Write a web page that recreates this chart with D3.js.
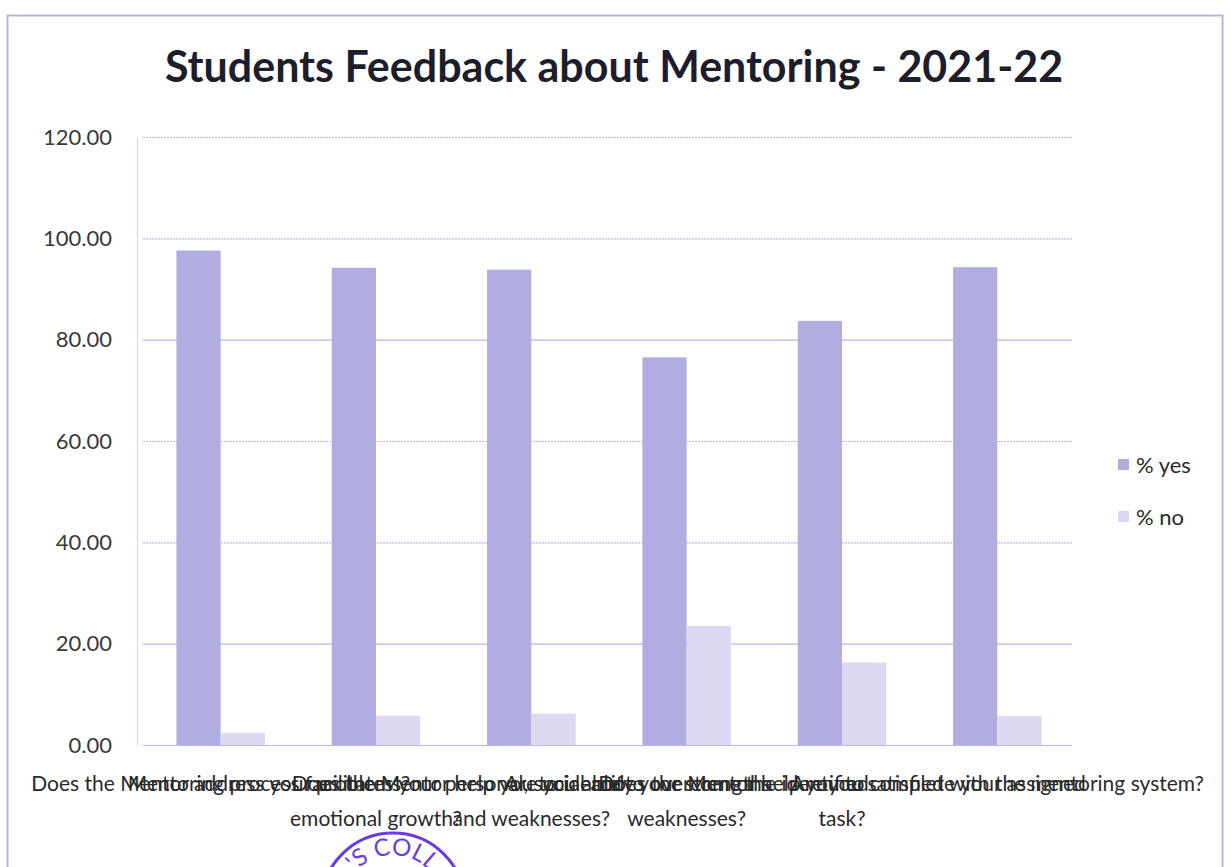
<!DOCTYPE html>
<html>
<head>
<meta charset="utf-8">
<script src="https://cdn.jsdelivr.net/npm/d3@7"></script>
<style>
  body { margin: 0; background: #fff; }
  svg { display: block; font-family: Lato, "Open Sans", sans-serif; }
</style>
</head>
<body>
<svg id="chart" width="1231" height="867"></svg>
<script>
// data
const categories = [
  ["Does the Mentor address your problems?"],
  ["Mentoring process facilitates your personal, social and", "emotional growth?"],
  ["Does the Mentor help you to identify your strengths", "and weaknesses?"],
  ["Are you able to overcome the identified", "weaknesses?"],
  ["Does the Mentor help you to complete your assigned", "task?"],
  ["Are you satisfied with the mentoring system?"]
];
const yesValues = [97.6, 94.2, 93.8, 76.5, 83.7, 94.3];
const noValues = [2.4, 5.8, 6.2, 23.5, 16.3, 5.7];
const seriesNames = ["% yes", "% no"];
const yTicks = [0, 20, 40, 60, 80, 100, 120];

const yesColor = "#b1ade0";
const noColor = "#dcd9f3";
const gridColor = "#bab5e7";

const svg = d3.select("#chart");
const plot = { left: 143, right: 1075, top: 137, bottom: 745 };

// outer chart border
svg.append("rect")
  .attr("x", 7.5).attr("y", 15.5)
  .attr("width", 1215).attr("height", 900)
  .attr("fill", "none")
  .attr("stroke", "#b9b3e3")
  .attr("stroke-width", 2);

svg.append("text")
  .attr("x", 614).attr("y", 82)
  .attr("text-anchor", "middle")
  .attr("font-size", 43)
  .attr("font-weight", "bold")
  .attr("fill", "#1d1d2b")
  .text("Students Feedback about Mentoring - 2021-22");

const x = d3.scaleBand()
  .domain(d3.range(categories.length))
  .range([plot.left, plot.right])
  .paddingInner(0.43)
  .paddingOuter(0.215);

const xInner = d3.scaleBand()
  .domain(seriesNames)
  .range([0, x.bandwidth()]);

const y = d3.scaleLinear()
  .domain([0, 120])
  .range([plot.bottom, plot.top]);

// gridlines
svg.append("g")
  .selectAll("line")
  .data(yTicks)
  .enter()
  .append("line")
  .attr("x1", plot.left).attr("x2", plot.right - 3)
  .attr("y1", d => y(d) + 0.5).attr("y2", d => y(d) + 0.5)
  .attr("stroke", gridColor)
  .attr("stroke-width", 1.2)
  .attr("stroke-dasharray", d => (d === 120 || d === 100 || d === 60 || d === 40) ? "2,1" : null);

// plot left border
svg.append("line")
  .attr("x1", plot.left - 5.5).attr("x2", plot.left - 5.5)
  .attr("y1", plot.top).attr("y2", plot.bottom)
  .attr("stroke", "#d6d3ef")
  .attr("stroke-width", 1);

// y axis labels
const yAxis = d3.axisLeft(y)
  .tickValues(yTicks)
  .tickFormat(d3.format(".2f"))
  .tickSize(0)
  .tickPadding(26);

svg.append("g")
  .attr("transform", `translate(${plot.left - 5},0)`)
  .call(yAxis)
  .call(g => g.select(".domain").remove())
  .selectAll("text")
  .attr("font-family", "Lato, sans-serif")
  .attr("font-size", 22)
  .attr("fill", "#3a3a3a");

// bars
const groups = svg.append("g")
  .selectAll("g")
  .data(categories.map((c, i) => ({ i: i, values: [yesValues[i], noValues[i]] })))
  .enter()
  .append("g")
  .attr("transform", d => `translate(${x(d.i)},0)`);

groups.selectAll("rect")
  .data(d => d.values.map((v, k) => ({ name: seriesNames[k], value: v })))
  .enter()
  .append("rect")
  .attr("x", d => xInner(d.name))
  .attr("width", xInner.bandwidth())
  .attr("y", d => y(d.value))
  .attr("height", d => y(0) - y(d.value))
  .attr("fill", d => d.name === "% yes" ? yesColor : noColor);

// category labels (they overlap, like the original)
const labels = svg.append("g")
  .selectAll("text")
  .data(categories.map((c, i) => ({ i: i, lines: c })))
  .enter()
  .append("text")
  .attr("text-anchor", "middle")
  .attr("font-size", 21)
  .attr("fill", "#2a2a2a")
  .attr("transform", d => `translate(${x(d.i) + x.bandwidth() / 2},${plot.bottom + 46})`);

labels.selectAll("tspan")
  .data(d => d.lines)
  .enter()
  .append("tspan")
  .attr("x", 0)
  .attr("dy", (d, k) => k === 0 ? 0 : 35)
  .text(d => d);

// legend
const legend = svg.append("g")
  .attr("transform", "translate(1118,465)")
  .selectAll("g")
  .data(seriesNames)
  .enter()
  .append("g")
  .attr("transform", (d, i) => `translate(0,${i * 52})`);

legend.append("rect")
  .attr("x", 0).attr("y", -6)
  .attr("width", 11).attr("height", 11)
  .attr("fill", (d, i) => i === 0 ? yesColor : noColor);

legend.append("text")
  .attr("x", 18).attr("y", 8)
  .attr("font-size", 22)
  .attr("fill", "#2a2a2a")
  .text(d => d);

// partial college stamp from the scan
const stamp = svg.append("g").attr("transform", "translate(393,905)");
stamp.append("circle")
  .attr("r", 72)
  .attr("fill", "none")
  .attr("stroke", "#6a3ce0")
  .attr("stroke-width", 3);
stamp.append("path")
  .attr("id", "stampArc")
  .attr("d", d3.arc()({ innerRadius: 50, outerRadius: 50, startAngle: -Math.PI / 2, endAngle: Math.PI / 2 }))
  .attr("fill", "none");
stamp.append("text")
  .attr("font-size", 24)
  .attr("fill", "#6a3ce0")
  .append("textPath")
  .attr("href", "#stampArc")
  .attr("startOffset", "25%")
  .attr("text-anchor", "middle")
  .text("'S COLL");
</script>
</body>
</html>
